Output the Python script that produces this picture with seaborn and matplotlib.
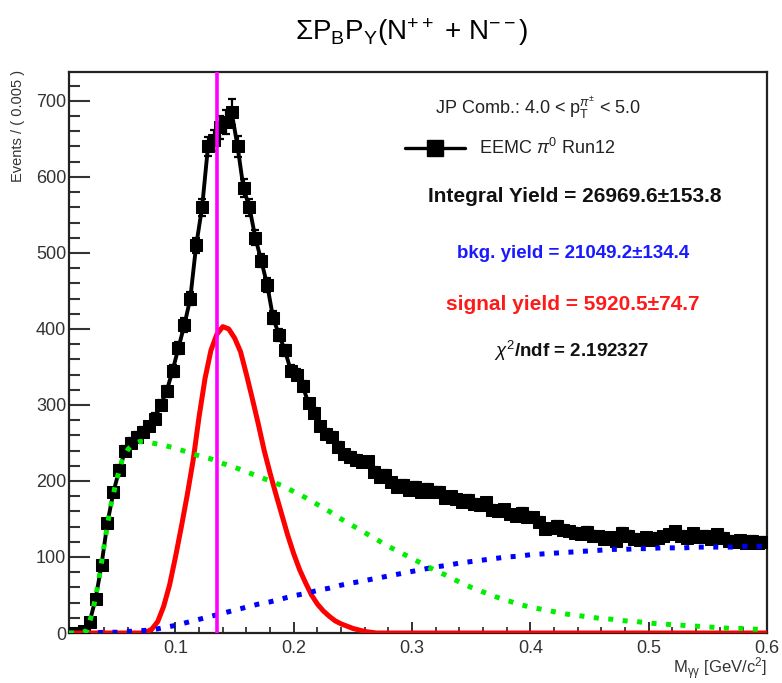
import matplotlib
matplotlib.use("Agg")
import numpy as np
import pandas as pd
import seaborn as sns
import matplotlib.pyplot as plt
from matplotlib.lines import Line2D
from matplotlib.ticker import MultipleLocator, FixedLocator

# ---------------- data ----------------
bin_low = 0.01
bin_width = 0.005
data_counts = [
    0, 0, 2, 15, 45, 90, 145, 185, 215, 240,
    250, 258, 265, 272, 282, 300, 318, 345, 375, 405,
    440, 510, 560, 640, 648, 665, 672, 685, 640, 585,
    560, 520, 490, 458, 415, 392, 372, 345, 340, 325,
    302, 290, 272, 262, 258, 245, 235, 232, 228, 225,
    226, 212, 205, 208, 198, 192, 195, 188, 192, 185,
    190, 186, 186, 178, 180, 176, 172, 175, 170, 168,
    172, 162, 160, 163, 156, 154, 158, 153, 152, 146,
    137, 138, 141, 136, 134, 132, 130, 133, 128, 127,
    124, 126, 121, 132, 128, 124, 122, 126, 123, 125,
    127, 130, 134, 128, 125, 131, 126, 128, 124, 130,
    125, 121, 120, 122, 119, 121, 118, 120,
]
data_errors = [
    0, 0, 1, 2, 3, 4, 5, 6, 6, 6,
    6, 6, 6, 6, 7, 7, 7, 8, 8, 9,
    9, 10, 11, 13, 14, 15, 16, 17, 14, 12,
    11, 10, 9, 9, 8, 8, 7, 7, 7, 7,
    6, 6, 6, 6, 6, 6, 6, 6, 6, 6,
    6, 6, 6, 6, 6, 6, 6, 6, 6, 6,
    6, 6, 6, 6, 6, 6, 6, 6, 6, 6,
    6, 6, 6, 6, 6, 6, 6, 6, 6, 6,
    6, 6, 6, 6, 6, 6, 6, 6, 6, 6,
    6, 6, 6, 6, 6, 6, 6, 6, 6, 6,
    6, 6, 6, 6, 6, 6, 6, 6, 6, 6,
    6, 6, 6, 6, 6, 6, 6, 6,
]
bin_centers = [bin_low + bin_width * (i + 0.5) for i in range(len(data_counts))]

green_x = [0.01, 0.015, 0.02, 0.025, 0.03, 0.035, 0.04, 0.045, 0.05, 0.055,
           0.06, 0.065, 0.07, 0.08, 0.09, 0.10, 0.11, 0.12, 0.13, 0.14,
           0.15, 0.16, 0.17, 0.18, 0.19, 0.20, 0.21, 0.22, 0.23, 0.24,
           0.25, 0.26, 0.27, 0.28, 0.29, 0.30, 0.31, 0.32, 0.33, 0.34,
           0.35, 0.36, 0.37, 0.38, 0.39, 0.40, 0.41, 0.42, 0.43, 0.44,
           0.45, 0.46, 0.47, 0.48, 0.49, 0.50, 0.51, 0.52, 0.53, 0.54,
           0.55, 0.56, 0.57, 0.58, 0.59, 0.60]
green_y = [0, 0, 0, 3, 28, 68, 118, 165, 200, 228,
           242, 249, 252, 250, 247, 243, 238, 233, 229, 223,
           218, 212, 206, 200, 194, 186, 178, 169, 160, 150,
           141, 132, 123, 114, 106, 98, 90, 82, 75, 67,
           60, 54, 48, 43, 38, 34, 31, 28, 25, 23,
           21, 19, 18, 16, 15, 13, 12, 11, 10, 9,
           8, 7, 6, 6, 5, 4]

blue_x = [0.01, 0.02, 0.03, 0.04, 0.05, 0.06, 0.07, 0.08, 0.09, 0.10,
          0.11, 0.12, 0.13, 0.14, 0.15, 0.16, 0.17, 0.18, 0.19, 0.20,
          0.21, 0.22, 0.23, 0.24, 0.25, 0.26, 0.27, 0.28, 0.29, 0.30,
          0.31, 0.32, 0.33, 0.34, 0.35, 0.36, 0.37, 0.38, 0.39, 0.40,
          0.41, 0.42, 0.43, 0.44, 0.45, 0.46, 0.47, 0.48, 0.49, 0.50,
          0.51, 0.52, 0.53, 0.54, 0.55, 0.56, 0.57, 0.58, 0.59, 0.60]
blue_y = [0, 0, 0, 1, 1, 2, 3, 4, 7, 10,
          14, 18, 22, 26, 30, 34, 38, 41, 45, 49,
          52, 56, 59, 63, 66, 69, 72, 75, 78, 81,
          84, 87, 89, 92, 94, 96, 98, 100, 101, 103,
          104, 105, 106, 107, 108, 109, 110, 110, 111, 111,
          112, 112, 112, 113, 113, 113, 113, 114, 114, 114]

red_x = [0.01, 0.07, 0.075, 0.08, 0.085, 0.09, 0.095, 0.10, 0.105, 0.11,
         0.115, 0.12, 0.125, 0.13, 0.135, 0.14, 0.145, 0.15, 0.155, 0.16,
         0.165, 0.17, 0.175, 0.18, 0.185, 0.19, 0.195, 0.20, 0.205, 0.21,
         0.215, 0.22, 0.225, 0.23, 0.235, 0.24, 0.245, 0.25, 0.255, 0.26,
         0.265, 0.27, 0.60]
red_y = [0, 0, 1, 5, 15, 35, 63, 100, 140, 182,
         228, 285, 335, 372, 393, 403, 400, 388, 370, 340,
         308, 275, 240, 210, 182, 155, 128, 104, 83, 66,
         50, 38, 29, 22, 16, 12, 9, 6, 4, 2,
         1, 0, 0]

pi0_mass = 0.135

title_text = r'$\Sigma\mathrm{P_{B}P_{Y}(N^{++}}$ + $\mathrm{N^{--})}$'
y_label = 'Events / ( 0.005 )'
x_label = r'$\mathrm{M_{\gamma\gamma}}$ [GeV/c$^{2}$]'
jp_text = r'JP Comb.: 4.0 < p$_{\mathrm{T}}^{\pi^{\pm}}$ < 5.0'
legend_label = r'EEMC $\pi^{0}$ Run12'
integral_text = 'Integral Yield = 26969.6±153.8'
bkg_text = 'bkg. yield = 21049.2±134.4'
signal_text = 'signal yield = 5920.5±74.7'
chi2_text = r'$\chi^{2}$/ndf = 2.192327'

# ---------------- style ----------------
sns.set_theme(style="white")
plt.rcParams['font.family'] = ['Liberation Sans', 'DejaVu Sans']
plt.rcParams['mathtext.fontset'] = 'custom'
plt.rcParams['mathtext.rm'] = 'Liberation Sans'
plt.rcParams['mathtext.it'] = 'Liberation Sans:italic'
plt.rcParams['mathtext.bf'] = 'Liberation Sans:bold'
plt.rcParams['mathtext.sf'] = 'Liberation Sans'

W, H = 782, 683
fig = plt.figure(figsize=(W / 100, H / 100), dpi=100)
fig.patch.set_facecolor('white')
L, R, T, B = 69, 767, 72, 633
ax = fig.add_axes([L / W, 1 - B / H, (R - L) / W, (B - T) / H])
ax.set_facecolor('white')

df_data = pd.DataFrame({'mass': bin_centers, 'events': data_counts, 'err': data_errors})
df_green = pd.DataFrame({'mass': green_x, 'val': green_y})
df_blue = pd.DataFrame({'mass': blue_x, 'val': blue_y})
df_red = pd.DataFrame({'mass': red_x, 'val': red_y})

ax.errorbar(df_data['mass'], df_data['events'], yerr=df_data['err'], fmt='none',
            ecolor='black', elinewidth=1.6, capsize=3, capthick=1.6, zorder=2)
sns.lineplot(data=df_data, x='mass', y='events', ax=ax, color='black', lw=2.8,
             marker='s', markersize=8, markeredgecolor='black', markerfacecolor='black',
             estimator=None, sort=True, legend=False, zorder=3)
sns.lineplot(data=df_red, x='mass', y='val', ax=ax, color='#ff0000', lw=3.6,
             estimator=None, legend=False, zorder=4)
sns.lineplot(data=df_blue, x='mass', y='val', ax=ax, color='#0000ff', lw=3.6,
             estimator=None, legend=False, zorder=5)
sns.lineplot(data=df_green, x='mass', y='val', ax=ax, color='#00ee00', lw=3.6,
             estimator=None, legend=False, zorder=6)
for line in ax.get_lines()[-2:]:
    line.set_dashes([1, 1.9])
    line.set_dash_capstyle('butt')
ax.axvline(pi0_mass, color='#ff00ff', lw=2.6, zorder=7)

ax.set_xlim(0.01, 0.6)
ax.set_ylim(0, 738)
ax.set_xlabel('')
ax.set_ylabel('')

ax.xaxis.set_major_locator(FixedLocator([0.1, 0.2, 0.3, 0.4, 0.5, 0.6]))
ax.xaxis.set_minor_locator(MultipleLocator(0.02))
ax.yaxis.set_major_locator(MultipleLocator(100))
ax.yaxis.set_minor_locator(MultipleLocator(20))
ax.set_xticklabels(['0.1', '0.2', '0.3', '0.4', '0.5', '0.6'])
ax.tick_params(axis='x', which='major', direction='in', length=8, width=1.3,
               color='#222222', labelsize=13, labelcolor='#333333', pad=5,
               bottom=True, top=False)
ax.tick_params(axis='x', which='minor', direction='in', length=4, width=1.2,
               color='#222222', bottom=True, top=False)
ax.tick_params(axis='y', which='major', direction='in', length=15, width=1.5,
               color='#333333', labelsize=13, labelcolor='#333333', pad=2,
               left=True, right=False)
ax.tick_params(axis='y', which='minor', direction='in', length=8, width=1.5,
               color='#333333', left=True, right=False)
for s in ax.spines.values():
    s.set_color('#222222')
    s.set_linewidth(1.6)
    s.set_visible(True)

def fx(px):
    return px / W

def fy(py):
    return 1 - py / H

fig.text(fx(412), fy(32), title_text, ha='center', va='center', fontsize=20, color='black')
fig.text(fx(18), fy(70), y_label, rotation=90, ha='center', va='top', fontsize=10.5, color='#333333')
fig.text(fx(767), fy(669), x_label, ha='right', va='center', fontsize=12, color='#333333')

fig.text(fx(538), fy(108), jp_text, ha='center', va='center', fontsize=13, color='#222222')
handle = Line2D([], [], color='black', lw=2.4, marker='s', markersize=11)
leg = ax.legend(handles=[handle], labels=[legend_label], frameon=False,
                loc='center left', bbox_to_anchor=(fx(405), fy(148)),
                bbox_transform=fig.transFigure, fontsize=13, handlelength=3.3,
                handletextpad=0.8, borderpad=0, borderaxespad=0)
for t in leg.get_texts():
    t.set_color('#222222')

fig.text(fx(575), fy(196), integral_text, ha='center', va='center', fontsize=15,
         fontweight='bold', color='#111111')
fig.text(fx(573), fy(253), bkg_text, ha='center', va='center', fontsize=13.5,
         fontweight='bold', color='#1a1aff')
fig.text(fx(573), fy(305), signal_text, ha='center', va='center', fontsize=15,
         fontweight='bold', color='#ff1a1a')
fig.text(fx(572), fy(351), chi2_text, ha='center', va='center', fontsize=13.5,
         fontweight='bold', color='#111111')

fig.savefig('out.png', dpi=100, facecolor='white')
